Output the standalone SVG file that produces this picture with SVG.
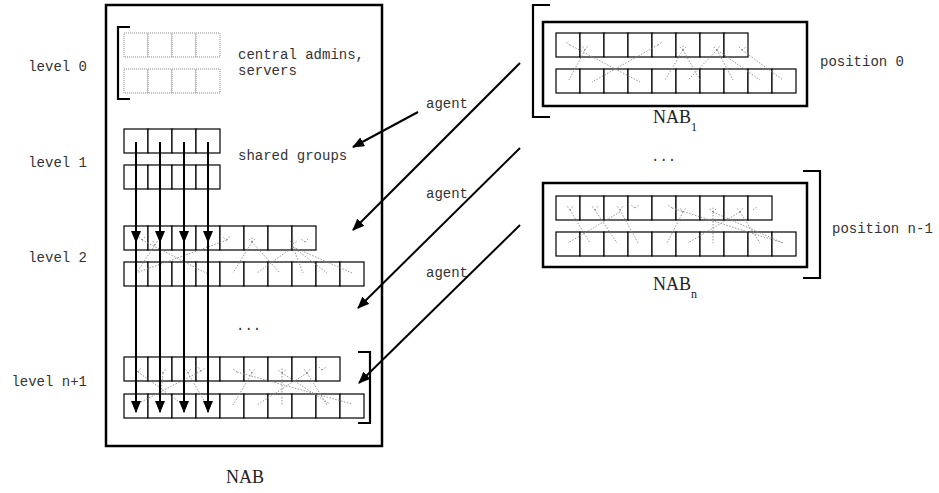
<svg xmlns="http://www.w3.org/2000/svg" width="939" height="493" viewBox="0 0 939 493">
  <style>
    .mono { font-family: "Liberation Mono", "DejaVu Sans Mono", monospace; font-size: 14px; fill: #333; }
    .serif { font-family: "Liberation Serif", "DejaVu Serif", serif; font-size: 18px; fill: #222; }
    .frame { fill: none; stroke: #000; stroke-width: 2.5; }
    .bracket { fill: none; stroke: #000; stroke-width: 2.2; }
    .cell { fill: #fff; stroke: #000; stroke-width: 1.2; }
    .ghost { fill: #fff; stroke: #888; stroke-width: 1; stroke-dasharray: 1 1; }
    .tree { fill: none; stroke: #8a8a8a; stroke-width: 0.9; stroke-dasharray: 1.5 1.5; }
    .arrow { fill: none; stroke: #000; stroke-width: 2; marker-end: url(#head); }
  </style>
  <defs>
    <marker id="head" markerUnits="userSpaceOnUse" markerWidth="12" markerHeight="10" refX="11" refY="5" orient="auto">
      <path d="M0,0 L12,5 L0,10 z" fill="#000"/>
    </marker>
    <!-- one row of four group cells -->
    <g id="row4">
      <rect class="cell" x="0" y="0" width="24" height="24"/>
      <rect class="cell" x="24" y="0" width="24" height="24"/>
      <rect class="cell" x="48" y="0" width="24" height="24"/>
      <rect class="cell" x="72" y="0" width="24" height="24"/>
    </g>
    <g id="row4g">
      <rect class="ghost" x="0" y="0" width="24" height="24"/>
      <rect class="ghost" x="24" y="0" width="24" height="24"/>
      <rect class="ghost" x="48" y="0" width="24" height="24"/>
      <rect class="ghost" x="72" y="0" width="24" height="24"/>
    </g>
    <g id="row8">
      <use href="#row4"/>
      <use href="#row4" x="96"/>
    </g>
    <g id="row9">
      <use href="#row8"/>
      <rect class="cell" x="192" y="0" width="24" height="24"/>
    </g>
    <g id="row10">
      <use href="#row9"/>
      <rect class="cell" x="216" y="0" width="24" height="24"/>
    </g>
  </defs>

  <rect width="939" height="493" fill="#fff"/>

  <!-- level labels -->
  <g id="levels" class="mono" text-anchor="end">
    <text x="87" y="71">level 0</text>
    <text x="87" y="167">level 1</text>
    <text x="87" y="262">level 2</text>
    <text x="87" y="386">level n+1</text>
  </g>

  <!-- main address book -->
  <g id="nab">
    <rect class="frame" x="106" y="5" width="276" height="441"/>
    <text class="serif" x="226" y="483">NAB</text>
  </g>

  <g id="level0">
    <path class="bracket" d="M130,27 H118 V99 H130"/>
    <use href="#row4g" x="124" y="33"/>
    <use href="#row4g" x="124" y="69"/>
    <text class="mono" x="238" y="59">central admins,</text>
    <text class="mono" x="238" y="75">servers</text>
  </g>

  <g id="level1">
    <use href="#row4" x="124" y="129"/>
    <use href="#row4" x="124" y="165"/>
    <text class="mono" x="238" y="160">shared groups</text>
  </g>

  <g id="level2">
    <use href="#row8" x="124" y="226"/>
    <use href="#row10" x="124" y="262"/>
    <g class="tree">
      <path d="M142,240 L208,274 M227,240 L136,273 M155,245 L137,272 M252,242 L233,273 M252,242 L280,273 M293,247 L257,273 M293,247 L303,273 M293,247 L327,273 M293,247 L352,273"/>
      <path d="M142,240 l-4,-4 M142,240 l4,-4 M155,245 l-3,-5 M155,245 l3,-5 M227,240 l-4,-3 M227,240 l3,-4 M252,242 l-4,-4 M252,242 l0,-5 M252,242 l4,-4 M293,244 l-4,-4 M293,244 l0,-5 M293,244 l4,-3 M305,242 l-4,-3 M305,242 l4,-4"/>
    </g>
  </g>

  <text id="more-levels" class="mono" x="236" y="330">...</text>

  <g id="levelN1">
    <path class="bracket" d="M358,352 H370 V423 H358"/>
    <use href="#row9" x="124" y="357"/>
    <use href="#row10" x="124" y="394"/>
    <g class="tree">
      <path d="M138,372 L182,404 M201,371 L137,404 M163,373 L160,404 M188,373 L206,404 M237,372 L352,404 M252,373 L233,405 M282,373 L282,405 M307,373 L257,405 M307,373 L327,405 M282,373 L330,404"/>
      <path d="M138,372 l-3,-4 M138,372 l3,-4 M163,373 l-3,-4 M163,373 l3,-4 M188,373 l-3,-4 M188,373 l3,-4 M201,371 l-3,-4 M201,371 l4,-3 M237,372 l-4,-3 M252,373 l-3,-4 M252,373 l3,-4 M282,373 l-4,-3 M282,373 l0,-5 M282,373 l4,-3 M307,373 l-3,-4 M307,373 l3,-4 M322,370 l-3,-3 M322,370 l4,-3"/>
    </g>
  </g>

  <!-- replica address books -->
  <g id="nab1">
    <path class="bracket" d="M550,5 H533 V117 H550"/>
    <rect class="frame" x="543" y="22" width="264" height="84"/>
    <use href="#row8" x="556" y="33"/>
    <use href="#row10" x="556" y="69"/>
    <g class="tree">
      <path d="M585,50 L569,80 M570,45 L640,82 M658,45 L592,82 M683,50 L665,80 M683,50 L700,80 M717,50 L688,80 M717,50 L733,80 M720,52 L760,80 M742,50 L783,80"/>
      <path d="M570,45 l-4,-3 M585,50 l-3,-4 M585,50 l3,-4 M658,45 l4,-3 M683,50 l-4,-4 M683,50 l0,-5 M683,50 l4,-4 M717,50 l-4,-4 M717,50 l3,-4 M742,50 l-4,-4 M742,50 l4,-3"/>
    </g>
    <text class="serif" x="653" y="123">NAB<tspan dy="8" font-size="12">1</tspan></text>
    <text class="mono" x="820" y="66">position 0</text>
  </g>

  <text id="more-nabs" class="mono" x="651" y="161">...</text>

  <g id="nabn">
    <path class="bracket" d="M803,171 H820 V278 H803"/>
    <rect class="frame" x="543" y="183" width="264" height="84"/>
    <use href="#row9" x="556" y="196"/>
    <use href="#row10" x="556" y="232"/>
    <g class="tree">
      <path d="M570,210 L590,243 M620,212 L568,243 M595,210 L617,243 M620,210 L638,243 M683,212 L667,243 M672,208 L783,243 M713,212 L713,243 M740,212 L688,243 M740,212 L760,243 M713,212 L783,243"/>
      <path d="M570,210 l-3,-4 M570,210 l3,-4 M595,210 l-3,-4 M595,210 l3,-4 M620,210 l-3,-4 M620,210 l3,-4 M635,208 l-4,-3 M635,208 l4,-3 M672,208 l-4,-3 M683,212 l-3,-4 M683,212 l3,-4 M713,212 l-4,-4 M713,212 l0,-5 M713,212 l4,-4 M740,212 l-3,-4 M740,212 l3,-4 M753,210 l4,-3"/>
    </g>
    <text class="serif" x="653" y="290">NAB<tspan dy="8" font-size="12">n</tspan></text>
    <text class="mono" x="832" y="233">position n-1</text>
  </g>

  <!-- connectors -->
  <g id="connectors">
    <path class="arrow" d="M136,142 V242"/>
    <path class="arrow" d="M160,142 V242"/>
    <path class="arrow" d="M184,142 V242"/>
    <path class="arrow" d="M208,142 V242"/>
    <path class="arrow" d="M136,242 V412"/>
    <path class="arrow" d="M160,242 V412"/>
    <path class="arrow" d="M184,242 V412"/>
    <path class="arrow" d="M208,242 V412"/>
    <path class="arrow" d="M418,112 L353,147"/>
    <path class="arrow" d="M520,63 L353,230"/>
    <path class="arrow" d="M520,148 L358,308"/>
    <path class="arrow" d="M520,225 L359,383"/>
    <g class="mono">
      <text x="426" y="108">agent</text>
      <text x="426" y="198">agent</text>
      <text x="426" y="277">agent</text>
    </g>
  </g>
</svg>
